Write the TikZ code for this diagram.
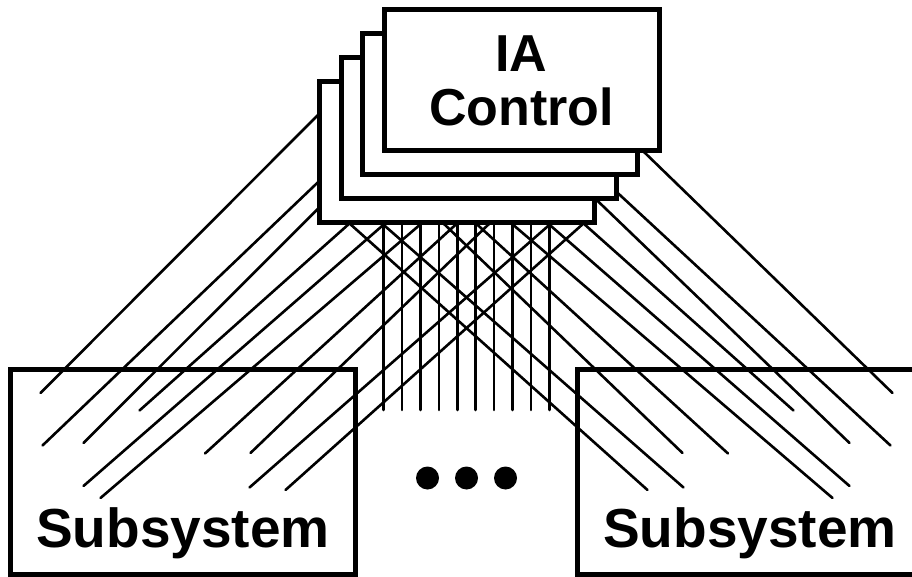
\documentclass[tikz,border=0pt]{standalone}
\usepackage{fontspec}
\setmainfont{Liberation Sans}
\usetikzlibrary{backgrounds}

\begin{document}
\begin{tikzpicture}[x=1pt,y=-1pt,
  ctlbox/.style={draw,fill=white,line width=5pt,outer sep=0pt,inner sep=0pt,minimum width=275pt,minimum height=141pt,align=center,font=\fontsize{52}{54}\selectfont\bfseries},
  subbox/.style={draw,line width=5pt,outer sep=0pt,inner sep=0pt,minimum width=345pt,minimum height=205pt,text height=150pt,text depth=0pt,font=\fontsize{55}{60}\selectfont\bfseries},
  wire/.style={line width=2.6pt,line cap=round}]
  \useasboundingbox (0,0) rectangle (912,577);
  \node[ctlbox] (ctl4) at (457,152.5) {};
  \node[ctlbox] (ctl3) at ([xshift=21.5pt,yshift=24pt]ctl4.center) {};
  \node[ctlbox] (ctl2) at ([xshift=21.5pt,yshift=24pt]ctl3.center) {};
  \node[ctlbox] (ctl1) at ([xshift=21.5pt,yshift=24pt]ctl2.center) {IA\\Control};
  \node[subbox] (subL) at (183,472) {Subsystem};
  \node[subbox] (subR) at (750,472) {Subsystem};
  \coordinate (bustop) at ([xshift=64pt]ctl4.south west);
  \coordinate (busend) at ([yshift=-187pt]bustop);
  \coordinate (more) at (466.5,478);
  \foreach \k in {-1,0,1}
    \fill ([xshift=39pt*\k]more) circle (11.5pt);
  \begin{scope}[on background layer]
    \fill[white] (0,0) rectangle (912,577);
    \foreach \i in {0,...,9}
      \draw[wire] ([xshift=18.44pt*\i]bustop) -- ([xshift=18.44pt*\i]busend);
    \foreach \a/\b/\c in {31.5/315/23.5,98.8/313/76,125.3/272/73.5}
      \draw[wire] ([yshift=-\a pt]ctl4.north west) -- ([xshift=-\b pt,yshift=-\c pt]subL.north east);
    \foreach \a/\b/\c in {30.5/216/41,66/272/116.5,102.5/255/128.5,138/150.5/84,170.5/105/83.5,232/106/118,264.5/70/120.5}
      \draw[wire] ([xshift=\a pt]ctl4.south west) -- ([xshift=-\b pt,yshift=-\c pt]subL.north east);
    \foreach \a/\b/\c in {263.5/216/41,228/272/116.5,191.5/255/128.5,156/150.5/84,123.5/105/83.5,62/106/118,29.5/70/120.5}
      \draw[wire] ([xshift=\a pt]ctl4.south west) -- ([xshift=\b pt,yshift=-\c pt]subR.north west);
    \draw[wire] ([xshift=259pt]ctl1.south west) -- ([xshift=315pt,yshift=-23.5pt]subR.north west);
    \draw[wire] ([yshift=7.6pt]ctl3.south east) -- ([xshift=313pt,yshift=-76pt]subR.north west);
    \draw[wire] ([xshift=-20.4pt]ctl3.south east) -- ([xshift=272pt,yshift=-73.5pt]subR.north west);
  \end{scope}
\end{tikzpicture}
\end{document}
